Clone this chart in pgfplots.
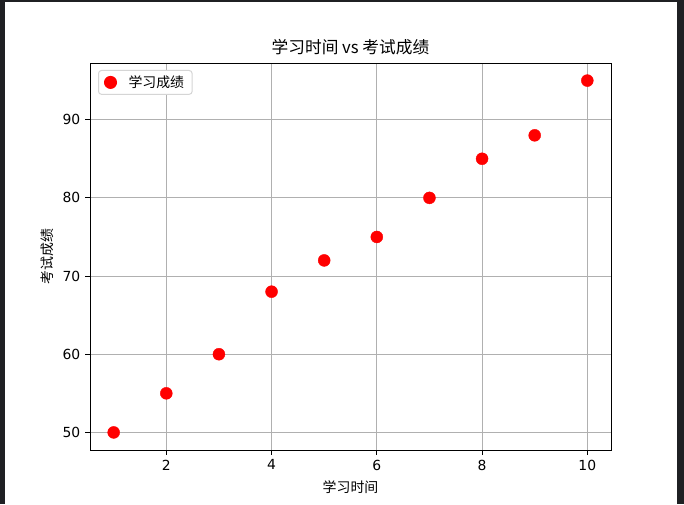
\documentclass[border=0pt]{standalone}
\usepackage{fontspec}
\setmainfont{DejaVu Sans}
\newfontfamily\cjk{Noto Sans CJK SC}
\usepackage{pgfplots}
\pgfplotsset{compat=1.18}
\definecolor{framedark}{HTML}{1F2023}
\definecolor{gridgray}{HTML}{B0B0B0}
\definecolor{legendedge}{HTML}{D5D5D5}

\begin{document}
\fontsize{13.9}{16}\selectfont
\begin{tikzpicture}
% screenshot frame
\fill[framedark] (-90pt,-54pt) rectangle (594pt,450pt);
\fill[white] (-85pt,-54pt) rectangle (587pt,448pt);
\begin{axis}[
  name=ax, at={(0,0)}, anchor=south west,
  scale only axis, width=521pt, height=387pt,
  xmin=0.55, xmax=10.45, ymin=47.75, ymax=97.25,
  xtick={2,4,6,8,10}, ytick={50,60,70,80,90},
  grid=major, grid style={gridgray, line width=1pt},
  axis line style={line width=0.8pt},
  tick style={black, line width=0.8pt},
  tick align=outside, major tick length=4.9pt,
  xtick pos=lower, ytick pos=left,
  /pgf/number format/assume math mode=true,
  tick label style={font=\fontsize{13.9}{16}\selectfont},
  title={\cjk 学习时间 vs 考试成绩},
  title style={font=\fontsize{16.7}{19}\selectfont, at={(axis description cs:0.5,1)}, anchor=south, yshift=-3pt},
  xlabel={\cjk 学习时间},
  ylabel={\cjk 考试成绩},
  xlabel style={at={(axis description cs:0.5,0)}, anchor=center, yshift=-37pt},
  ylabel style={at={(axis description cs:-0.0825,0.5)}, anchor=center},
  legend style={at={(axis description cs:0.0154,0.982)}, anchor=north west,
    draw=legendedge, rounded corners=3pt, line width=1pt,
    font=\fontsize{13.9}{16}\selectfont, inner xsep=6pt, inner ysep=3pt,
    /tikz/every odd column/.append style={column sep=10pt}},
  legend cell align=left,
]
\addplot[only marks, mark=*, mark size=6pt, color=red, mark options={fill=red, draw=red}]
  coordinates {(1,50) (2,55) (3,60) (4,68) (5,72) (6,75) (7,80) (8,85) (9,88) (10,95)};
\addlegendentry{\cjk 学习成绩}
\end{axis}
\pgfresetboundingbox
\path (-90pt,-54pt) rectangle (594pt,450pt);
\end{tikzpicture}
\end{document}
